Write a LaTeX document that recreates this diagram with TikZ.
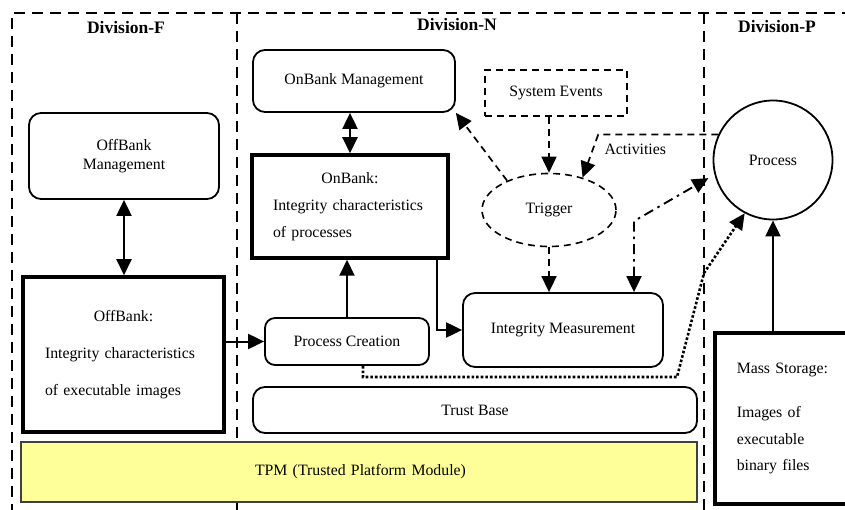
\documentclass[tikz,border=0pt]{standalone}
\usepackage{fontspec}
\setmainfont{Liberation Serif}
\usepackage{xcolor}
\usetikzlibrary{arrows.meta}
\usetikzlibrary{positioning}
\usetikzlibrary{shapes.geometric}

\definecolor{tpmyellow}{RGB}{255,255,153}

\begin{document}
\begin{tikzpicture}[
        x=1pt,
        y=-1pt,
        font=\fontsize{15.8}{19}\selectfont,
        block/.style={
            rectangle,
            draw,
            line width=1.8pt,
            fill=white,
            align=center,
            rounded corners=12pt,
            inner sep=2pt
        },
        bank/.style={
            rectangle,
            draw,
            line width=3.5pt,
            fill=white,
            align=left,
            inner sep=0pt
        },
        division/.style={
            draw,
            line width=2.4pt,
            dash pattern=on 11pt off 7pt
        },
        heading/.style={
            font=\fontsize{17.5}{20}\selectfont\bfseries
        },
        line/.style={
            draw,
            line width=2pt,
            -{Triangle[length=16pt,width=15pt]}
        },
        both/.style={
            line,
            {Triangle[length=16pt,width=15pt]}-{Triangle[length=16pt,width=15pt]}
        },
        event/.style={
            line,
            line width=1.7pt,
            dash pattern=on 7pt off 5pt
        },
        measure/.style={
            both,
            line width=1.9pt,
            dash pattern=on 10pt off 5pt on 2.5pt off 5pt
        },
        load/.style={
            line,
            line width=2.6pt,
            dash pattern=on 2.6pt off 2pt
        },
        ]

        \useasboundingbox (0,0) rectangle (845,510);
        \clip (0,0) rectangle (845,510);

        \path [division] (12,515) |- (870,13);
        \path [division] (237,13) -- (237,515);
        \path [division] (704,13) -- (704,515);

        \node [heading] (division-f) at (126,28) {Division-F};
        \node [heading] (division-n) at (457,25) {Division-N};
        \node [heading] (division-p) at (777,27) {Division-P};

        \node [block,minimum width=190pt,minimum height=86pt] (offbank-management) at (124,156) {OffBank\\Management};
        \node [bank,minimum width=201pt,minimum height=155pt,text width=157pt,font=\fontsize{15.8}{37}\selectfont] (offbank) at (123.5,354.5) {\makebox[\linewidth]{OffBank:}\\Integrity characteristics\\of executable images};
        \node [block,minimum width=202pt,minimum height=62pt] (onbank-management) at (354,81) {OnBank Management};
        \node [bank,minimum width=196pt,minimum height=103pt,text width=154pt,font=\fontsize{15.8}{27}\selectfont] (onbank) at (350,206.5) {\makebox[\linewidth]{OnBank:}\\Integrity characteristics\\of processes};
        \node [block,minimum width=164pt,minimum height=47pt,rounded corners=10pt] (process-creation) at (347,341.5) {Process Creation};
        \node [block,minimum width=200pt,minimum height=74pt] (integrity-measurement) at (563,330) {Integrity Measurement};
        \node [block,minimum width=444pt,minimum height=46pt] (trust-base) at (475,410) {Trust Base};
        \node [rectangle,draw=black!75,line width=1.2pt,fill=tpmyellow,minimum width=676pt,minimum height=60pt,text width=660pt,align=left,inner sep=0pt] (tpm) at (359,472) {\hspace*{226pt}TPM (Trusted Platform Module)};
        \node [rectangle,draw,line width=1.6pt,dash pattern=on 7pt off 5pt,minimum width=142pt,minimum height=46pt] (system-events) at (556,93) {System Events};
        \node [ellipse,draw,line width=1.6pt,dash pattern=on 7pt off 5pt,minimum width=134pt,minimum height=73pt,inner sep=0pt] (trigger) at (549,210) {Trigger};
        \node [circle,draw,line width=1.8pt,fill=white,minimum size=119pt,inner sep=0pt] (process) at (773,160) {Process};
        \node [bank,anchor=north west,minimum width=154pt,minimum height=171pt,text width=110pt,font=\fontsize{15.8}{26.5}\selectfont] (mass-storage) at (713,331) {Mass Storage:\\[18pt]Images of\\executable\\binary files};
        \node [anchor=west] (activities) at (601,149) {Activities};

        \path [both] (offbank-management.south) -- (offbank-management.south |- offbank.north);
        \path [both] (onbank-management.south -| onbank.north) -- (onbank.north);
        \path [line] (offbank.east |- process-creation.west) -- (process-creation.west);
        \path [line] (process-creation.north) -- (process-creation.north |- onbank.south);
        \path [line] ([xshift=87pt]onbank.south) |- (integrity-measurement.west);
        \path [event] (trigger.north |- system-events.south) -- (trigger.north);
        \path [event] (trigger.145) -- (onbank-management.south east);
        \path [event] (process.155) -- ++(-120,0) -- (trigger.44);
        \path [event] (trigger.south) -- (trigger.south |- integrity-measurement.north);
        \path [measure,shorten >=7pt] ([xshift=71pt]integrity-measurement.north) -- ++(0,-71) -- (process.194);
        \path [load] ([xshift=16pt]process-creation.south) |- (677,377) -- (704,273) -- (process.242);
        \path [line] (process.south |- mass-storage.north) -- (process.south);
    \end{tikzpicture}
\end{document}
